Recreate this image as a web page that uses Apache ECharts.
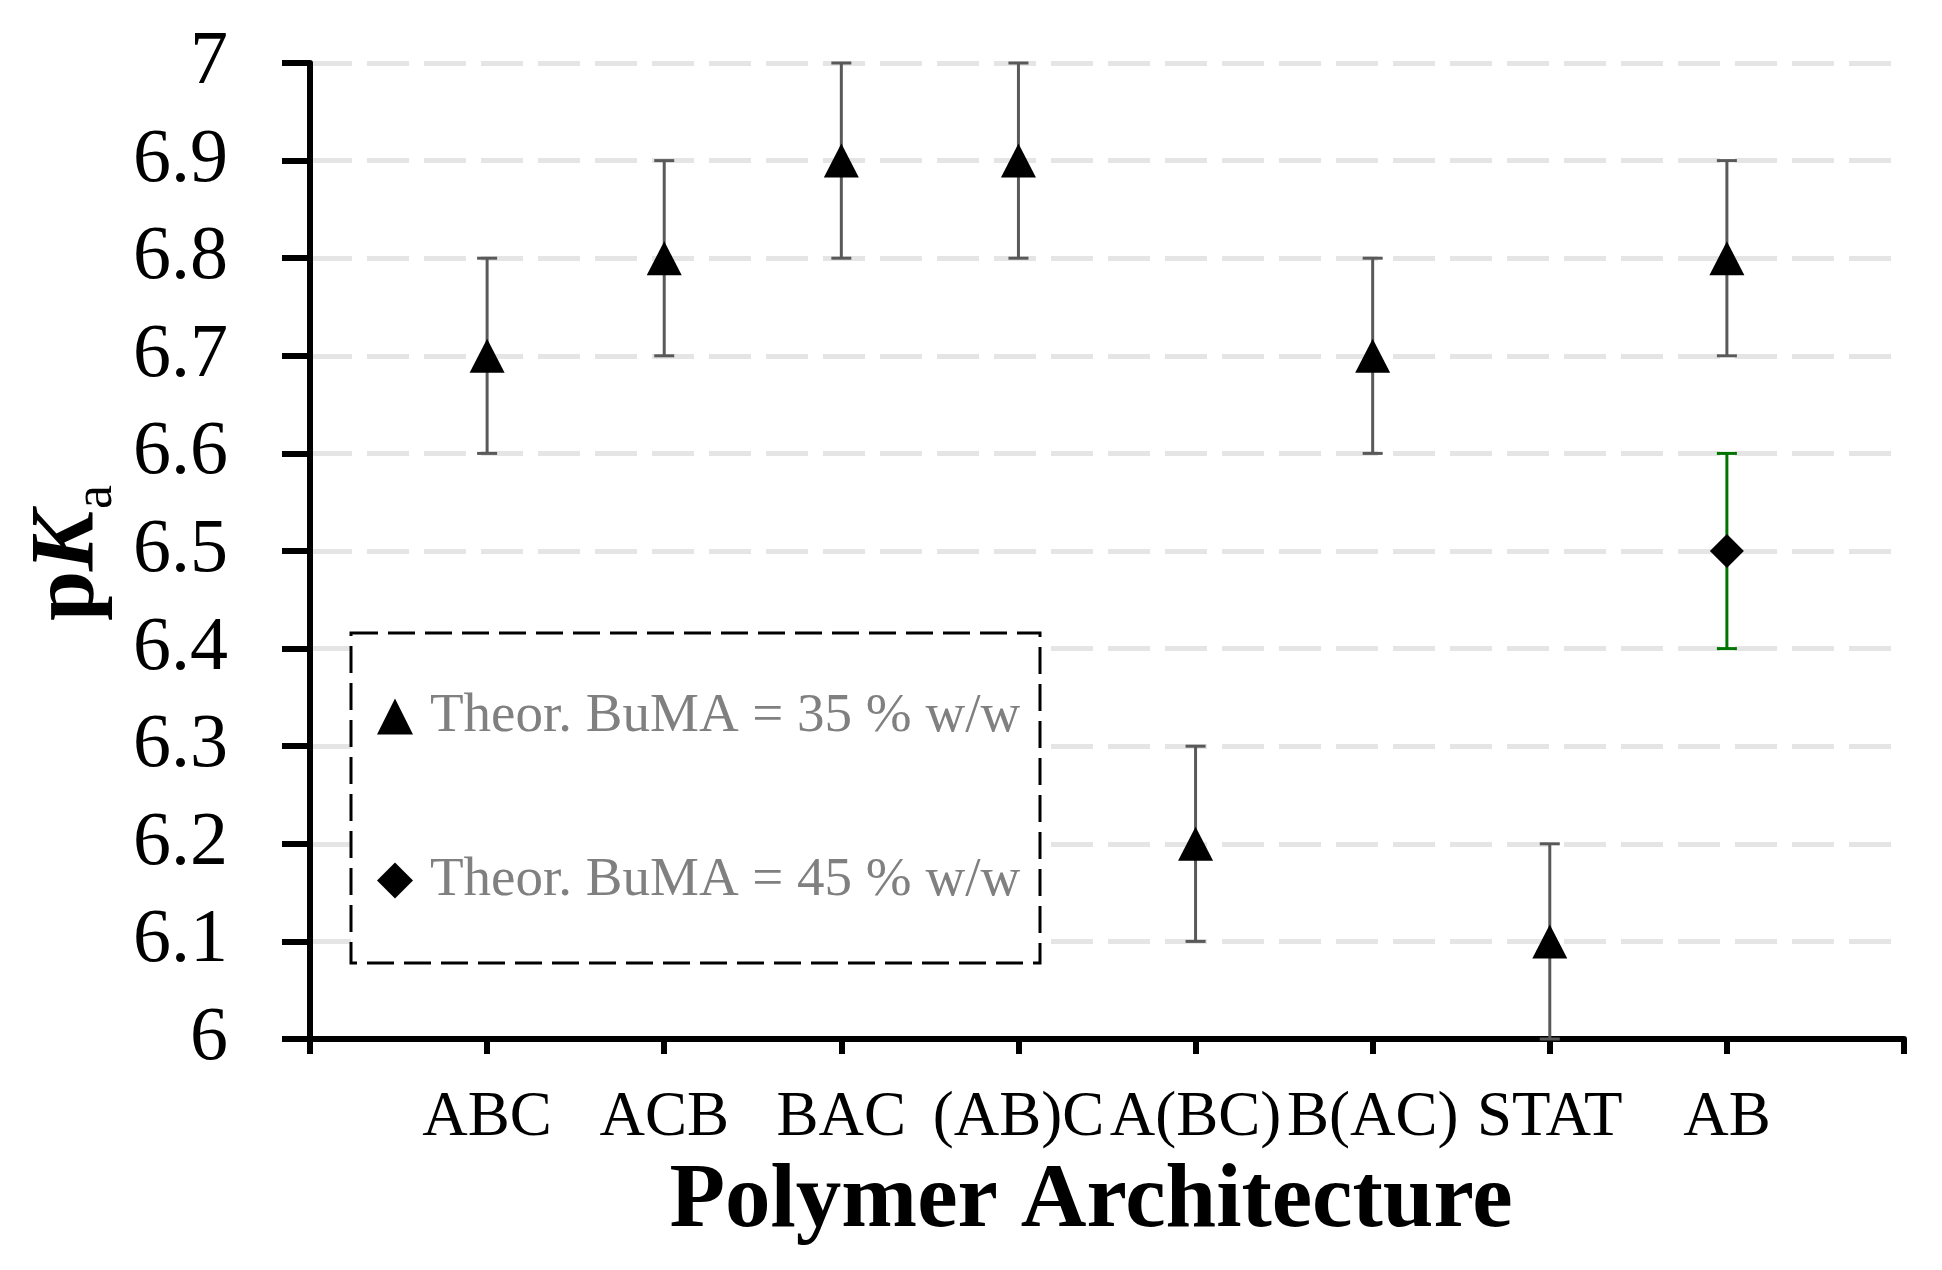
<!DOCTYPE html>
<html>
<head>
<meta charset="utf-8">
<script src="https://cdn.jsdelivr.net/npm/echarts@6/dist/echarts.min.js"></script>
<style>
  html, body { margin: 0; padding: 0; background: #fff; }
  #chart { width: 1942px; height: 1270px; }
</style>
</head>
<body>
<div id="chart"></div>
<script>
// polymer architectures along the x axis
var architectures = ['ABC', 'ACB', 'BAC', '(AB)C', 'A(BC)', 'B(AC)', 'STAT', 'AB'];
// pKa for theor. BuMA = 35 % w/w and its error
var pka35 = [6.7, 6.8, 6.9, 6.9, 6.2, 6.7, 6.1, 6.8];
var err35 = [0.1, 0.1, 0.1, 0.1, 0.1, 0.1, 0.1, 0.1];
// pKa for theor. BuMA = 45 % w/w (only AB measured)
var pka45 = [null, null, null, null, null, null, null, 6.5];
var err45 = [null, null, null, null, null, null, null, 0.1];

var name35 = 'Theor. BuMA = 35 % w/w';
var name45 = 'Theor. BuMA = 45 % w/w';
var serif = 'Liberation Serif';

function points(vals) {
  var out = [];
  for (var i = 0; i < vals.length; i++) {
    if (vals[i] != null) out.push([i + 1, vals[i]]);
  }
  return out;
}

function bars(vals, errs) {
  var out = [];
  for (var i = 0; i < vals.length; i++) {
    if (vals[i] != null) out.push([i + 1, vals[i] - errs[i], vals[i] + errs[i]]);
  }
  return out;
}

// error bar: vertical line with caps
function renderErrorBar(params, api) {
  var x = api.value(0);
  var lo = api.coord([x, api.value(1)]);
  var hi = api.coord([x, api.value(2)]);
  var half = 10;
  var style = { stroke: api.visual('color'), lineWidth: 3 };
  return {
    type: 'group',
    children: [
      { type: 'line', shape: { x1: lo[0], y1: lo[1], x2: hi[0], y2: hi[1] }, style: style },
      { type: 'line', shape: { x1: hi[0] - half, y1: hi[1], x2: hi[0] + half, y2: hi[1] }, style: style },
      { type: 'line', shape: { x1: lo[0] - half, y1: lo[1], x2: lo[0] + half, y2: lo[1] }, style: style }
    ]
  };
}

var myChart = echarts.init(document.getElementById('chart'));
var option = {
  animation: false,
  backgroundColor: '#fff',
  grid: { left: 310, right: 38, top: 63, bottom: 231, containLabel: false, outerBoundsMode: 'none' },
  graphic: [
    {
      // legend frame
      type: 'rect',
      z: 1,
      shape: { x: 351, y: 633, width: 689, height: 330 },
      style: { fill: '#fff', stroke: '#000', lineWidth: 3, lineDash: [27, 10] }
    },
    {
      // subscript "a" of pKa, sits after the rotated axis name
      type: 'text',
      x: 97,
      y: 509,
      rotation: Math.PI / 2,
      style: { text: 'a', fontFamily: serif, fontSize: 54, fill: '#000', align: 'left', verticalAlign: 'middle' }
    }
  ],
  legend: {
    orient: 'vertical',
    left: 377,
    top: 689,
    padding: 0,
    itemGap: 109,
    itemWidth: 36,
    itemHeight: 36,
    selectedMode: false,
    itemStyle: { opacity: 1 },
    data: [
      { name: name35, icon: 'triangle' },
      { name: name45, icon: 'diamond' }
    ],
    textStyle: { fontFamily: serif, fontSize: 55, lineHeight: 55, color: '#808080', padding: [0, 0, 0, 12] }
  },
  xAxis: {
    type: 'value',
    min: 0,
    max: 9,
    interval: 1,
    name: 'Polymer Architecture',
    nameLocation: 'middle',
    nameGap: 118,
    nameTextStyle: { fontFamily: serif, fontSize: 91, fontWeight: 'bold', color: '#000', lineHeight: 91, padding: [0, 32, 0, 0] },
    splitLine: { show: false },
    axisLine: { onZero: false, lineStyle: { color: '#000', width: 6 } },
    axisTick: { length: 15, lineStyle: { color: '#000', width: 6 } },
    axisLabel: {
      margin: 48,
      fontFamily: serif,
      fontSize: 63,
      color: '#000',
      formatter: function (v) { return architectures[v - 1] || ''; }
    }
  },
  yAxis: {
    type: 'value',
    min: 6,
    max: 7,
    interval: 0.1,
    name: '{p|p}{k|K}',
    nameLocation: 'middle',
    nameRotate: 90,
    nameGap: 195,
    nameTextStyle: {
      padding: [0, 30, 0, 0],
      rich: {
        p: { fontFamily: serif, fontSize: 90, fontWeight: 'bold', color: '#000', lineHeight: 90 },
        k: { fontFamily: serif, fontSize: 90, fontWeight: 'bold', fontStyle: 'italic', color: '#000', lineHeight: 90 }
      }
    },
    axisLine: { show: true, lineStyle: { color: '#000', width: 6 } },
    axisTick: { show: true, length: 28, lineStyle: { color: '#000', width: 6 } },
    axisLabel: { margin: 82, fontFamily: serif, fontSize: 76, color: '#000' },
    splitLine: { show: true, lineStyle: { color: '#e5e5e5', width: 5, type: [42, 15] } }
  },
  series: [
    {
      name: 'err35',
      type: 'custom',
      z: 1,
      itemStyle: { color: '#595959' },
      renderItem: renderErrorBar,
      data: bars(pka35, err35)
    },
    {
      name: 'err45',
      type: 'custom',
      z: 1,
      itemStyle: { color: '#007300' },
      renderItem: renderErrorBar,
      data: bars(pka45, err45)
    },
    {
      name: name35,
      type: 'scatter',
      z: 3,
      symbol: 'triangle',
      symbolSize: [35, 34],
      itemStyle: { color: '#000', opacity: 1 },
      data: points(pka35)
    },
    {
      name: name45,
      type: 'scatter',
      z: 3,
      symbol: 'diamond',
      symbolSize: [34, 34],
      itemStyle: { color: '#000', opacity: 1 },
      data: points(pka45)
    }
  ]
};
myChart.setOption(option);
</script>
</body>
</html>
